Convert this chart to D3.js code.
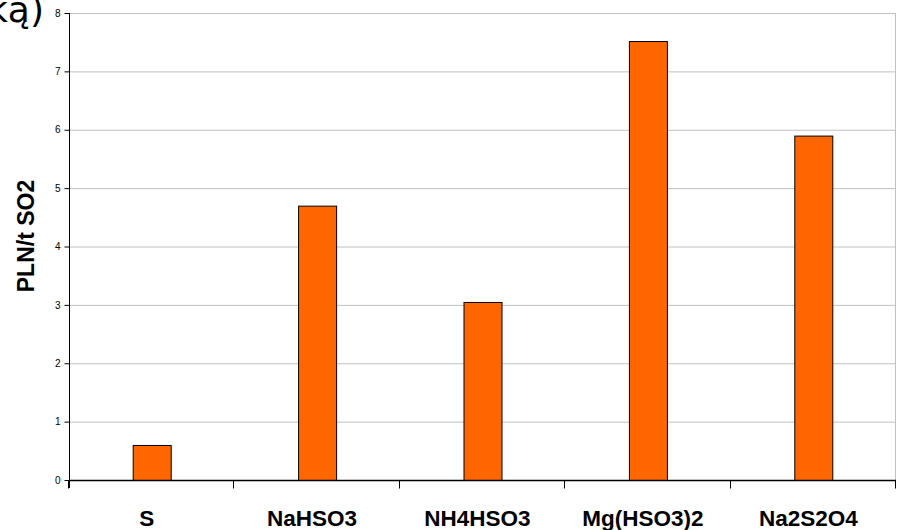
<!DOCTYPE html>
<html><head><meta charset="utf-8">
<script src="https://cdn.jsdelivr.net/npm/d3@7"></script>
<style>body{margin:0;background:#fff}svg{display:block}</style>
</head><body>
<svg id="c" width="897" height="530"></svg>
<script>
const categories = ["S", "NaHSO3", "NH4HSO3", "Mg(HSO3)2", "Na2S2O4"];
const values = [0.6, 4.7, 3.05, 7.52, 5.9];
const yTicks = [0, 1, 2, 3, 4, 5, 6, 7, 8];
const yTitle = "PLN/t SO2";
const cornerText = "ką)";

const svg = d3.select("#c");
const L = 69, R = 896, T = 13, B = 480;
const x = d3.scaleBand().domain(categories).range([L, R]);
const y = d3.scaleLinear().domain([0, 8]).range([B, T]);
const font = "Arial, 'Liberation Sans', sans-serif";

// gridlines
svg.append("g").selectAll("line").data(yTicks.filter(d => d > 0)).join("line")
  .attr("x1", L).attr("x2", R).attr("y1", d => y(d) + 0.5).attr("y2", d => y(d) + 0.5)
  .attr("stroke", "#c0c0c0").attr("stroke-width", 1);
// right border
svg.append("line").attr("x1", R - 0.5).attr("x2", R - 0.5).attr("y1", T).attr("y2", B)
  .attr("stroke", "#c0c0c0");

// bars
const bw = 38;
svg.append("g").selectAll("rect").data(categories).join("rect")
  .attr("x", d => x(d) + x.bandwidth() / 2 - bw / 2 + 0.5)
  .attr("y", (d, i) => y(values[i]) + 0.5)
  .attr("width", bw)
  .attr("height", (d, i) => B - y(values[i]))
  .attr("fill", "#FF6600").attr("stroke", "#000").attr("stroke-width", 1);

// y axis
const ya = svg.append("g").attr("transform", `translate(${L + 0.5},0)`)
  .call(d3.axisLeft(y).tickValues(yTicks).tickSize(5).tickPadding(4).tickFormat(d3.format("d")));
ya.select(".domain").attr("d", `M0,${T}V${B + 8}`).attr("stroke", "#000");
ya.selectAll(".tick line").attr("stroke", "#000");
ya.selectAll("text").attr("font-family", font).attr("font-size", 10).attr("fill", "#000");

// x axis
const xa = svg.append("g").attr("transform", `translate(0,${B + 0.5})`)
  .call(d3.axisBottom(x).tickSize(0).tickFormat(""));
xa.select(".domain").attr("d", `M${L},0H${R}`).attr("stroke", "#000").attr("stroke-width", 1.5);
xa.selectAll(".tick").remove();
const bounds = categories.map(c => x(c)).concat([R]);
xa.selectAll("line.sep").data(bounds).join("line").attr("class", "sep")
  .attr("x1", d => Math.round(d) - 0.5).attr("x2", d => Math.round(d) - 0.5)
  .attr("y1", 0).attr("y2", 8).attr("stroke", "#000");
xa.selectAll("text.cat").data(categories).join("text").attr("class", "cat")
  .attr("x", d => x(d) + x.bandwidth() / 2 - 5).attr("y", 45)
  .attr("text-anchor", "middle").attr("font-family", font).attr("font-weight", "bold")
  .attr("font-size", 22.5).attr("fill", "#000").text(d => d);

// y title
svg.append("text").attr("transform", "translate(34,236) rotate(-90)")
  .attr("text-anchor", "middle").attr("font-family", font).attr("font-weight", "bold")
  .attr("font-size", 23).attr("fill", "#000").text(yTitle);

// corner text (cropped at the left edge, as in the reference)
svg.append("text").attr("x", -13).attr("y", 22).attr("font-family", "'DejaVu Sans', sans-serif")
  .attr("font-size", 36).attr("fill", "#000").text(cornerText);
</script>
</body></html>
